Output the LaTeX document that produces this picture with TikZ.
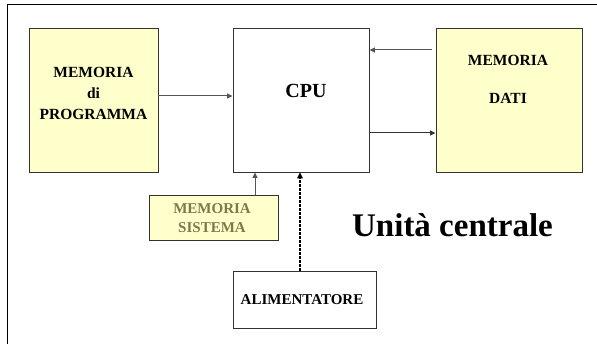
\documentclass[tikz,border=0pt]{standalone}
\usepackage{fontspec}
\setmainfont{Liberation Serif}
\usetikzlibrary{arrows.meta}
\definecolor{memfill}{HTML}{FFFFCC}
\definecolor{boxline}{HTML}{333333}
\definecolor{wireline}{HTML}{555555}
\definecolor{systext}{HTML}{7A7A4C}
\tikzset{
  block/.style={draw=boxline, line width=0.9pt, inner sep=0pt},
  memblock/.style={block, fill=memfill},
  lbl/.style={font=\bfseries\fontsize{15.5}{21}\selectfont, align=center, inner sep=0pt},
  wire/.style={draw=wireline, line width=1pt, -{Triangle[length=5.5pt,width=5pt]}},
  power/.style={draw=black, line width=2.6pt, dash pattern=on 2.2pt off 1.8pt,
                -{Triangle[length=6pt,width=6pt,line width=0pt]}}
}
\begin{document}
\begin{tikzpicture}[x=1pt,y=-1pt]
\useasboundingbox (0,0) rectangle (597,344);
% outer frame
\draw[black, line width=1pt] (7,346) -- (7,5) -- (599,5);

% blocks
\node[memblock, minimum width=129pt, minimum height=144pt] (prog) at (93.5,100) {};
\node[block, fill=white, minimum width=136pt, minimum height=144pt] (cpu) at (301,100) {};
\node[memblock, minimum width=146pt, minimum height=144pt] (dati) at (509,100) {};
\node[memblock, minimum width=129pt, minimum height=45pt] (sis) at (213.5,217.5) {};
\node[block, fill=white, minimum width=143pt, minimum height=57pt] (alim) at (304.5,299.5) {};

% labels (base anchor sits on the last line)
\node[lbl, anchor=base] (prog-t) at (93.5,120) {MEMORIA\\di\\PROGRAMMA};
\node[lbl, anchor=base, font=\bfseries\fontsize{20}{24}\selectfont] (cpu-t) at (306,98) {CPU};
\node[lbl, anchor=base] (dati-t) at (508,104) {MEMORIA\\[17pt]DATI};
\node[lbl, anchor=base, text=systext, font=\bfseries\fontsize{15}{19}\selectfont] (sis-t) at (212,233) {MEMORIA\\SISTEMA};
\node[lbl, anchor=base, font=\bfseries\fontsize{15}{18}\selectfont] (alim-t) at (302,305) {ALIMENTATORE};
\node[anchor=base, inner sep=0pt, font=\bfseries\fontsize{33}{36}\selectfont] (titolo) at (452.5,237) {Unità centrale};

% connections
\draw[wire] ([yshift=4pt]prog.east) -- ([yshift=4pt]cpu.west);
\draw[wire] ([xshift=-4pt,yshift=50pt]dati.west) -- ([yshift=50pt]cpu.east);
\draw[wire, draw=black!80] ([yshift=-33pt]cpu.east) -- ([yshift=-33pt]dati.west);
\draw[wire] ([xshift=41.5pt]sis.north) -- ([xshift=41.5pt]sis.north |- cpu.south);
\draw[power] ([xshift=-4.5pt]alim.north) -- ([xshift=-4.5pt]alim.north |- cpu.south);
\end{tikzpicture}
\end{document}
